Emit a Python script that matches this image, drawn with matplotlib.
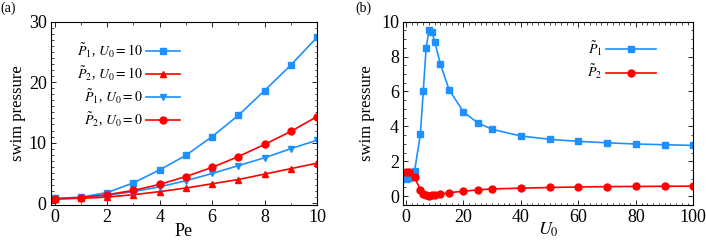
import numpy as np
import matplotlib
matplotlib.use("Agg")
from matplotlib import pyplot as plt
from matplotlib.ticker import MultipleLocator

plt.rcParams['font.family'] = ['Liberation Serif', 'DejaVu Serif']
plt.rcParams['mathtext.fontset'] = 'stix'
plt.rcParams['xtick.direction'] = 'in'
plt.rcParams['ytick.direction'] = 'in'
plt.rcParams['xtick.top'] = True
plt.rcParams['ytick.right'] = True

blue = '#1e90ff'
red = '#ff0000'

# panel (a): swim pressure vs Pe
pe = [0, 1, 2, 3, 4, 5, 6, 7, 8, 9, 10]
p1_u10 = [0.77, 1.0, 1.75, 3.35, 5.5, 7.9, 11.0, 14.5, 18.6, 22.8, 27.4]
p2_u10 = [0.7, 0.8, 1.0, 1.4, 1.9, 2.5, 3.2, 3.9, 4.8, 5.7, 6.6]
p1_u0 = [0.75, 0.9, 1.3, 1.9, 2.7, 3.7, 4.9, 6.2, 7.5, 9.0, 10.4]
p2_u0 = [0.7, 0.9, 1.4, 2.1, 3.1, 4.4, 5.9, 7.7, 9.7, 11.85, 14.3]

# panel (b): swim pressure vs U0 at fixed Pe
u0 = [0, 1, 3, 5, 6, 7, 8, 9, 10, 12, 15, 20, 25, 30, 40, 50, 60, 70, 80, 90, 100]
p1 = [1.0, 1.02, 1.45, 3.55, 6.0, 8.47, 9.52, 9.43, 8.85, 7.55, 6.1, 4.83, 4.2,
      3.83, 3.45, 3.26, 3.14, 3.06, 2.99, 2.95, 2.91]
p2 = [1.4, 1.38, 1.08, 0.37, 0.15, 0.06, 0.04, 0.05, 0.07, 0.12, 0.2, 0.29, 0.36,
      0.42, 0.46, 0.5, 0.53, 0.55, 0.56, 0.57, 0.58]

fig = plt.figure(figsize=(7.06, 2.4), dpi=100)
ax1 = fig.add_axes([0.072, 0.146, 0.377, 0.764])
ax2 = fig.add_axes([0.571, 0.146, 0.411, 0.764])

kw = dict(lw=1.2, ms=5)
ax1.plot(pe, p1_u10, '-s', color=blue, label=r'$\tilde{P}_1$, $U_0=10$', **kw)
ax1.plot(pe, p2_u10, '-^', color=red, label=r'$\tilde{P}_2$, $U_0=10$', **kw)
ax1.plot(pe, p1_u0, '-v', color=blue, label=r'$\tilde{P}_1$, $U_0=0$', **kw)
ax1.plot(pe, p2_u0, '-o', color=red, label=r'$\tilde{P}_2$, $U_0=0$', **kw)
ax1.set_xlim(-0.15, 10)
ax1.set_ylim(-0.3, 30)
ax1.xaxis.set_major_locator(MultipleLocator(2))
ax1.xaxis.set_minor_locator(MultipleLocator(1))
ax1.yaxis.set_major_locator(MultipleLocator(10))
ax1.yaxis.set_minor_locator(MultipleLocator(1))
ax1.set_xlabel('Pe', fontsize=13, labelpad=-2)
ax1.set_ylabel('swim pressure', fontsize=12, labelpad=2)
ax1.legend(loc='upper left', bbox_to_anchor=(0.05, 0.96), frameon=False,
           markerfirst=False, fontsize=10, handlelength=2.4,
           labelspacing=0.35, handletextpad=0.3)

ax2.plot(u0, p1, '-s', color=blue, label=r'$\tilde{P}_1$', **kw)
ax2.plot(u0, p2, '-o', color=red, label=r'$\tilde{P}_2$', **kw)
ax2.set_xlim(-1, 100)
ax2.set_ylim(-0.5, 10)
ax2.xaxis.set_major_locator(MultipleLocator(20))
ax2.xaxis.set_minor_locator(MultipleLocator(2))
ax2.yaxis.set_major_locator(MultipleLocator(2))
ax2.yaxis.set_minor_locator(MultipleLocator(0.5))
ax2.set_xlabel('$U_0$', fontsize=13, labelpad=-4)
ax2.set_ylabel('swim pressure', fontsize=12, labelpad=4)
ax2.legend(loc='upper left', bbox_to_anchor=(0.59, 0.97), frameon=False,
           markerfirst=False, fontsize=10, handlelength=3.6,
           labelspacing=0.35, handletextpad=0.3)

for ax in (ax1, ax2):
    ax.tick_params(which='major', length=3.5, width=0.6, labelsize=13, pad=3)
    ax.tick_params(which='minor', length=1.8, width=0.5)
    for s in ax.spines.values():
        s.set_linewidth(0.8)

fig.text(0.0, 0.995, '(a)', ha='left', va='top', fontsize=10)
fig.text(0.503, 0.995, '(b)', ha='left', va='top', fontsize=10)

fig.savefig('out.png', dpi=100)
